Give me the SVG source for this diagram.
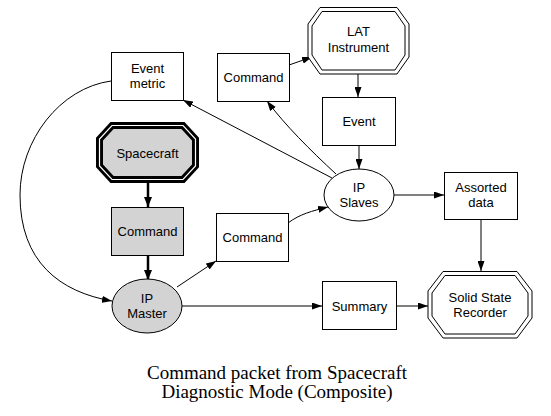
<svg xmlns="http://www.w3.org/2000/svg" width="551" height="416" viewBox="0 0 551 416">
<style>
.box{fill:#fff;stroke:#000;stroke-width:1}
.gray{fill:#d3d3d3;stroke:#000;stroke-width:1}
.t{font-family:"Liberation Sans",Arial,sans-serif;font-size:13px;text-anchor:middle;fill:#000}
.cap{font-family:"Liberation Serif","Times New Roman",serif;font-size:19px;text-anchor:middle;fill:#000}
.e{fill:none;stroke:#000;stroke-width:1;marker-end:url(#ah)}
.thick{fill:none;stroke:#000;stroke-width:2.5;marker-end:url(#ahb)}
</style>
<defs>
<marker id="ah" viewBox="0 0 10 7" refX="10" refY="3.5" markerWidth="10" markerHeight="7" markerUnits="userSpaceOnUse" orient="auto">
<path d="M0,0 L10,3.5 L0,7 z" fill="#000"/>
</marker>
<marker id="ahb" viewBox="0 0 10 8" refX="10" refY="4" markerWidth="10" markerHeight="8" markerUnits="userSpaceOnUse" orient="auto">
<path d="M0,0 L10,4 L0,8 z" fill="#000"/>
</marker>
</defs>
<rect width="551" height="416" fill="#fff"/>
<g id="connectors">
<path class="e" d="M111,81 C60,88 20,140 20,195 C20,262 60,292 112,301"/>
<path class="e" d="M332,178 L183,100"/>
<path class="e" d="M336,174 C310,150 285,125 267,101"/>
<path class="e" d="M289,65 L312,57"/>
<path class="e" d="M358,74 L358,97"/>
<path class="e" d="M359,145 L359,169"/>
<path class="e" d="M288,223 C300,214 312,211 328,207"/>
<path class="e" d="M177,287 L216,261"/>
<path class="e" d="M182,306 L322,306"/>
<path class="e" d="M394,195 L444,195"/>
<path class="e" d="M481,219 L481,271"/>
<path class="e" d="M396,306 L428,306"/>
<path class="thick" d="M148,183 L148,207"/>
<path class="thick" d="M148,256 L148,280"/>
</g>
<g id="event_metric">
<rect class="box" x="111.5" y="52.5" width="72" height="48"/>
<text class="t" x="147.5" y="73">Event</text>
<text class="t" x="147.5" y="88">metric</text>
</g>
<g id="command_top">
<rect class="box" x="217.5" y="53.5" width="72" height="48"/>
<text class="t" x="253.5" y="82">Command</text>
</g>
<g id="lat_instrument">
<polygon class="box" points="320,7.5 397,7.5 409,24 409,57 397,74 320,74 308,57 308,24"/>
<polygon class="box" points="322,11.5 395,11.5 405,26 405,55 395,70 322,70 312,55 312,26"/>
<text class="t" x="358.5" y="36">LAT</text>
<text class="t" x="358.5" y="52">Instrument</text>
</g>
<g id="event">
<rect class="box" x="322.5" y="97.5" width="73" height="48"/>
<text class="t" x="359" y="126">Event</text>
</g>
<g id="spacecraft">
<polygon points="112,125.5 183,125.5 195.5,139 195.5,166 183,179.5 112,179.5 99.5,166 99.5,139" fill="#d3d3d3" stroke="#000" stroke-width="7" stroke-linejoin="miter"/>
<polygon points="112,125.5 183,125.5 195.5,139 195.5,166 183,179.5 112,179.5 99.5,166 99.5,139" fill="none" stroke="#fff" stroke-width="1.2"/>
<text class="t" x="147.5" y="158">Spacecraft</text>
</g>
<g id="command_sc">
<rect class="gray" x="111.5" y="207.5" width="72" height="48"/>
<text class="t" x="147.5" y="236">Command</text>
</g>
<g id="ip_master">
<ellipse class="gray" cx="147" cy="306" rx="35" ry="27"/>
<text class="t" x="147" y="303">IP</text>
<text class="t" x="147" y="318">Master</text>
</g>
<g id="command_mid">
<rect class="box" x="216.5" y="213.5" width="72" height="48"/>
<text class="t" x="252.5" y="242">Command</text>
</g>
<g id="ip_slaves">
<ellipse class="box" cx="359" cy="195" rx="35" ry="26"/>
<text class="t" x="359" y="192">IP</text>
<text class="t" x="359" y="207">Slaves</text>
</g>
<g id="assorted_data">
<rect class="box" x="444.5" y="172.5" width="73" height="47"/>
<text class="t" x="481" y="192">Assorted</text>
<text class="t" x="481" y="207">data</text>
</g>
<g id="summary">
<rect class="box" x="322.5" y="281.5" width="74" height="48"/>
<text class="t" x="359.5" y="311">Summary</text>
</g>
<g id="solid_state_recorder">
<polygon class="box" points="443,271.5 517,271.5 532,291 532,318 517,338 443,338 428,318 428,291"/>
<polygon class="box" points="445,275.5 515,275.5 528,293 528,316 515,334 445,334 432,316 432,293"/>
<text class="t" x="480" y="302">Solid State</text>
<text class="t" x="480" y="317">Recorder</text>
</g>
<g id="caption">
<text class="cap" x="277" y="379">Command packet from Spacecraft</text>
<text class="cap" x="277" y="398">Diagnostic Mode (Composite)</text>
</g>
</svg>
